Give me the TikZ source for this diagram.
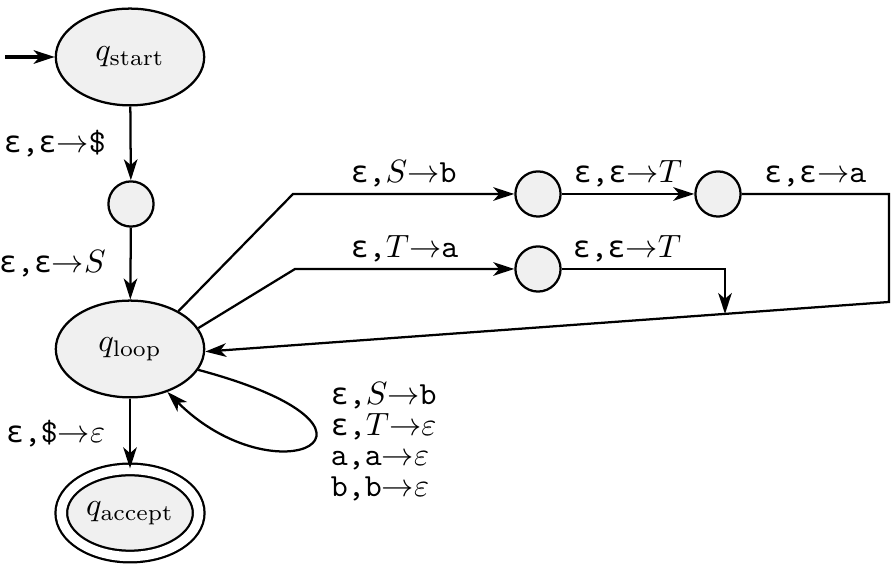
\documentclass[tikz,border=0pt]{standalone}
\usepackage{fontspec}
\usetikzlibrary{arrows.meta,positioning,shapes.geometric}
\newfontfamily\epsfont{DejaVu Sans Mono}[Scale=0.92]
\newcommand{\eps}{{\epsfont ε}}
\newcommand{\tr}[3]{#1\texttt{,}#2$\rightarrow$#3}
\tikzset{
  state/.style={ellipse, draw, line width=0.7pt, fill=black!6, minimum width=46pt, minimum height=30pt, inner sep=0pt},
  accepting/.style={double, double distance=2.9pt, minimum width=42.6pt, minimum height=27pt},
  aux/.style={circle, draw, line width=0.7pt, fill=black!6, minimum size=14pt, inner sep=0pt},
  trans/.style={line width=0.7pt, -{Stealth[length=6.5pt,width=4.2pt,inset=1.8pt]}},
}
\begin{document}
\begin{tikzpicture}[x=0.31pt, y=-0.31pt]
\useasboundingbox (0,0) rectangle (896,573);
% states
\node[state] (start) at (130,57) {$q_{\mathrm{start}}$};
\node[aux] (m1) at (131,204) {};
\node[state] (loop) at (130,349) {$q_{\mathrm{loop}}$};
\node[state,accepting] (accept) at (130,513) {$q_{\mathrm{accept}}$};
\node[aux] (s1) at (538,194) {};
\node[aux] (s2) at (718,194) {};
\node[aux] (t1) at (538,269) {};
% bends
\coordinate (init) at (5,57);
\coordinate (c1) at (293,194);
\coordinate (c2) at (295,269);
\coordinate (c4) at (889,302);
\coordinate (merge) at (725,314);
% edges
\draw[trans,line width=1pt] (init) -- (start);
\draw[trans] (start) -- node[left=4pt] {\tr{\eps}{\eps}{\texttt{\$}}} (m1);
\draw[trans] (m1) -- node[left=4pt] {\tr{\eps}{\eps}{$S$}} (loop);
\draw[trans] (loop) -- node[left=4pt] {\tr{\eps}{\texttt{\$}}{$\varepsilon$}} (accept);
\draw[trans] (loop.38) -- (c1) -- node[above=-1.5pt] {\tr{\eps}{$S$}{\texttt{b}}} (s1);
\draw[trans] (s1) -- node[above=-1.5pt] {\tr{\eps}{\eps}{$T$}} (s2);
\draw[trans] (s2) -| node[pos=0.25,above=-1.5pt] {\tr{\eps}{\eps}{\texttt{a}}} (c4) -- (loop.-2);
\draw[trans] (loop.17) -- (c2) -- node[above=-1.5pt] {\tr{\eps}{$T$}{\texttt{a}}} (t1);
\draw[trans] (t1) -| node[pos=0.2,above=-1.5pt] {\tr{\eps}{\eps}{$T$}} (merge);
\draw[trans] (loop.-17) .. controls +(-15:72pt) and +(-45:48pt) .. node[pos=0.4,right=1pt,yshift=-2pt,align=left,font=\fontsize{10pt}{9.5pt}\selectfont]
  {\tr{\eps}{$S$}{\texttt{b}}\\ \tr{\eps}{$T$}{$\varepsilon$}\\ \tr{\texttt{a}}{\texttt{a}}{$\varepsilon$}\\ \tr{\texttt{b}}{\texttt{b}}{$\varepsilon$}} (loop.-49);
\end{tikzpicture}
\end{document}
